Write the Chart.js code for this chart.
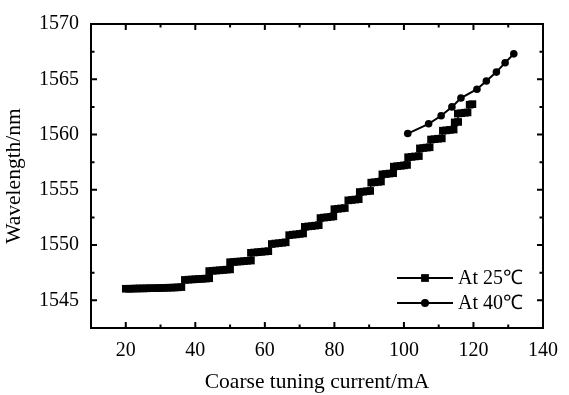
<!DOCTYPE html>
<html>
<head>
<meta charset="utf-8">
<script src="https://cdn.jsdelivr.net/npm/chart.js@4/dist/chart.umd.min.js"></script>
<style>
  html, body { margin: 0; padding: 0; background: #fff; }
  #wrap { width: 569px; height: 395px; }
</style>
</head>
<body>
<div id="wrap"><canvas id="myChart" width="569" height="395"></canvas></div>
<script>
// tick labels
var xTicks = [20, 40, 60, 80, 100, 120, 140];
var yTicks = [1545, 1550, 1555, 1560, 1565, 1570];

// At 25 C  (stepped mode hops)
var current25 = [
  20, 21, 22, 23, 24, 25, 26, 27, 28, 29, 30, 31, 32, 33, 34, 35, 36,
  37, 38, 39, 40, 41, 42, 43, 44,
  44, 45, 46, 47, 48, 49, 50,
  50, 51, 52, 53, 54, 55, 56,
  56, 57, 58, 59, 60, 61,
  62, 63, 64, 65, 66,
  67, 68, 69, 70, 71,
  71.5, 72.5, 73.5, 74.5, 75.5,
  76, 77, 78, 79, 79.7,
  80, 81, 82, 83,
  84, 85, 86, 87,
  87.3, 88.3, 89.3, 90.3,
  90.6, 91.6, 92.6, 93.4,
  93.8, 94.8, 95.8, 96.9,
  97.1, 98.1, 99.1, 100, 100.9,
  101.2, 102.2, 103.2, 104.3,
  104.6, 105.6, 106.6, 107.4,
  107.8, 108.8, 109.8, 110.9,
  111.2, 112.2, 113.2, 114.3,
  114.6, 115.6,
  115.5, 116.5, 117.5, 118.3,
  118.9, 119.7
];
var wavelength25 = [
  1546.05, 1546.05, 1546.06, 1546.07, 1546.08, 1546.08, 1546.09, 1546.10, 1546.10, 1546.11, 1546.12, 1546.13, 1546.14, 1546.15, 1546.16, 1546.18, 1546.20,
  1546.85, 1546.87, 1546.89, 1546.91, 1546.93, 1546.95, 1546.97, 1547.00,
  1547.65, 1547.67, 1547.70, 1547.72, 1547.75, 1547.78, 1547.80,
  1548.45, 1548.47, 1548.50, 1548.52, 1548.55, 1548.58, 1548.60,
  1549.30, 1549.33, 1549.36, 1549.39, 1549.42, 1549.45,
  1550.10, 1550.14, 1550.17, 1550.21, 1550.25,
  1550.90, 1550.94, 1550.97, 1551.01, 1551.05,
  1551.65, 1551.69, 1551.72, 1551.76, 1551.80,
  1552.45, 1552.49, 1552.52, 1552.56, 1552.60,
  1553.25, 1553.28, 1553.32, 1553.35,
  1554.05, 1554.08, 1554.12, 1554.15,
  1554.80, 1554.83, 1554.87, 1554.90,
  1555.65, 1555.68, 1555.72, 1555.75,
  1556.40, 1556.43, 1556.47, 1556.50,
  1557.10, 1557.14, 1557.17, 1557.21, 1557.25,
  1557.95, 1557.98, 1558.02, 1558.05,
  1558.75, 1558.78, 1558.82, 1558.85,
  1559.55, 1559.58, 1559.62, 1559.65,
  1560.35, 1560.38, 1560.42, 1560.45,
  1561.10, 1561.14,
  1561.90, 1561.93, 1561.97, 1562.00,
  1562.70, 1562.75
];

// At 40 C
var current40 = [101.1, 107.1, 110.7, 113.8, 116.4, 121.0, 123.7, 126.6, 129.1, 131.6];
var wavelength40 = [1560.09, 1560.97, 1561.70, 1562.50, 1563.30, 1564.10, 1564.85, 1565.65, 1566.50, 1567.30];

var seriesNames = ['At 25\u2103', 'At 40\u2103'];

function toXY(xs, ys) {
  var out = [];
  for (var i = 0; i < xs.length; i++) out.push({ x: xs[i], y: ys[i] });
  return out;
}

var serif = '"Liberation Serif", "Times New Roman", serif';

// frame + inward ticks on all four sides, plus the legend box
var framePlugin = {
  id: 'frame',
  afterDraw: function(chart) {
    var ctx = chart.ctx, a = chart.chartArea;
    var xs = chart.scales.x, ys = chart.scales.y;
    ctx.save();
    ctx.strokeStyle = '#000';
    ctx.lineWidth = 2;
    ctx.strokeRect(a.left, a.top, a.right - a.left, a.bottom - a.top);

    ctx.lineWidth = 2;
    ctx.beginPath();
    for (var v = 10; v <= 140; v += 10) {
      var px = xs.getPixelForValue(v);
      var len = (v % 20 === 0) ? 6 : 3.5;
      if (px <= a.left + 1 || px >= a.right - 1) continue;
      ctx.moveTo(px, a.bottom); ctx.lineTo(px, a.bottom - len);
      ctx.moveTo(px, a.top); ctx.lineTo(px, a.top + len);
    }
    for (var w = 1542.5; w <= 1570; w += 2.5) {
      var py = ys.getPixelForValue(w);
      var l2 = (w % 5 === 0) ? 6 : 3.5;
      if (py <= a.top + 1 || py >= a.bottom - 1) continue;
      ctx.moveTo(a.left, py); ctx.lineTo(a.left + l2, py);
      ctx.moveTo(a.right, py); ctx.lineTo(a.right - l2, py);
    }
    ctx.stroke();

    // legend
    var styles = ['rect', 'circle'];
    var radii = [5.5, 4];
    var rows = [278, 303];
    ctx.font = '20px ' + serif;
    ctx.textBaseline = 'middle';
    ctx.textAlign = 'left';
    for (var i = 0; i < 2; i++) {
      ctx.lineWidth = 2;
      ctx.beginPath();
      ctx.moveTo(397, rows[i]); ctx.lineTo(453, rows[i]);
      ctx.stroke();
      ctx.fillStyle = '#000';
      Chart.helpers.drawPoint(ctx, { pointStyle: styles[i], radius: radii[i], rotation: 0, borderWidth: 0 }, 425, rows[i]);
      ctx.fillStyle = '#000';
      ctx.fillText(seriesNames[i], 458, rows[i] + 1);
    }
    ctx.restore();
  }
};

var ctx = document.getElementById('myChart').getContext('2d');
var chart = new Chart(ctx, {
  type: 'scatter',
  data: {
    datasets: [{
      label: seriesNames[0],
      data: toXY(current25, wavelength25),
      showLine: true,
      borderColor: '#000',
      backgroundColor: '#000',
      borderWidth: 1.5,
      pointStyle: 'rect',
      pointRadius: 5.4,
      pointBorderWidth: 0
    }, {
      label: seriesNames[1],
      data: toXY(current40, wavelength40),
      showLine: true,
      borderColor: '#000',
      backgroundColor: '#000',
      borderWidth: 2,
      pointStyle: 'circle',
      pointRadius: 3.8,
      pointBorderWidth: 0
    }]
  },
  options: {
    responsive: false,
    animation: false,
    devicePixelRatio: 1,
    layout: { padding: { left: 0, right: 23, top: 17, bottom: 0 } },
    plugins: { legend: { display: false }, tooltip: { enabled: false } },
    scales: {
      x: {
        type: 'linear',
        min: 10, max: 140,
        afterBuildTicks: function(s) { s.ticks = xTicks.map(function(v) { return { value: v }; }); },
        afterFit: function(s) { s.height = 67; },
        grid: { display: false, drawTicks: false },
        border: { display: false },
        ticks: { color: '#000', font: { family: serif, size: 20 }, padding: 11, maxRotation: 0,
                 callback: function(v) { return String(v); } },
        title: { display: true, text: 'Coarse tuning current/mA', color: '#000',
                 font: { family: serif, size: 21.5 }, padding: { top: 0, bottom: 0 } }
      },
      y: {
        type: 'linear',
        min: 1542.5, max: 1570,
        afterBuildTicks: function(s) { s.ticks = yTicks.map(function(v) { return { value: v }; }); },
        afterFit: function(s) { s.width = 91; },
        grid: { display: false, drawTicks: false },
        border: { display: false },
        ticks: { color: '#000', font: { family: serif, size: 20 }, padding: 12,
                 callback: function(v) { return String(v); } },
        title: { display: true, text: 'Wavelength/nm', color: '#000',
                 font: { family: serif, size: 21.5 }, padding: { top: 1, bottom: 0 } }
      }
    }
  },
  plugins: [framePlugin]
});
</script>
</body>
</html>
